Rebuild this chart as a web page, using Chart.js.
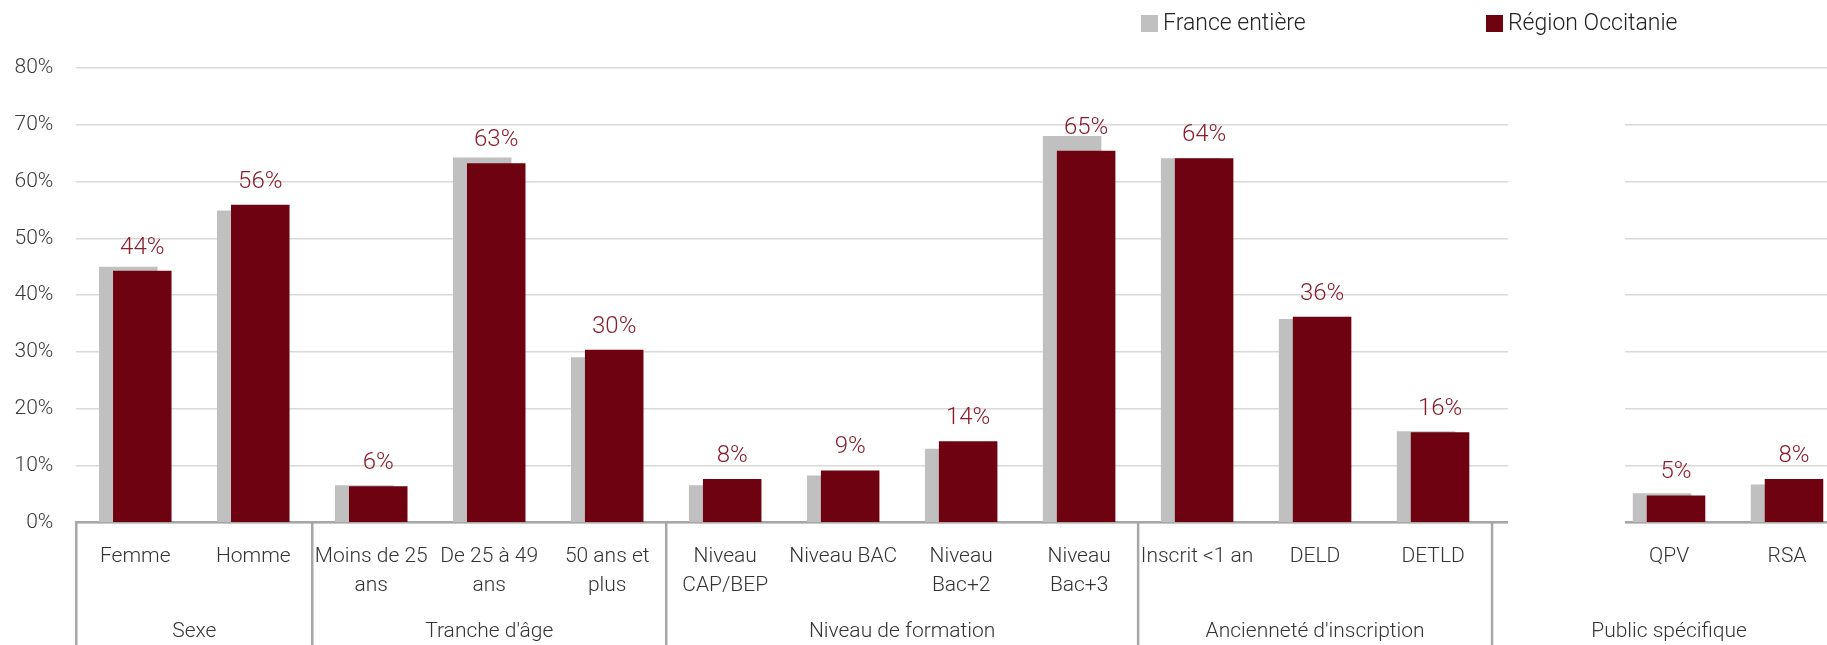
<!DOCTYPE html>
<html lang="fr">
<head>
<meta charset="utf-8">
<title>Profil des demandeurs d'emploi</title>
<script src="https://cdn.jsdelivr.net/npm/chart.js@4.4.1/dist/chart.umd.min.js"></script>
<style>
  html, body { margin: 0; padding: 0; background: #fff; overflow: hidden; }
  body { width: 1827px; height: 645px; position: relative; }
  #wrap { position: absolute; left: 0; top: 0; width: 1846px; height: 645px; }
</style>
</head>
<body>
<div id="wrap"><canvas id="profilChart"></canvas></div>
<script>
const CATEGORIES = [
  "Femme", "Homme",
  ["Moins de 25", "ans"], ["De 25 à 49", "ans"], ["50 ans et", "plus"],
  ["Niveau", "CAP/BEP"], "Niveau BAC", ["Niveau", "Bac+2"], ["Niveau", "Bac+3"],
  "Inscrit <1 an", "DELD", "DETLD",
  "", "QPV", "RSA",
];
const GROUP_NAMES = ["Sexe", "Tranche d'âge", "Niveau de formation", "Ancienneté d'inscription", "Public spécifique"];
const GROUP_SIZES = [2, 3, 4, 3, 3];

const FRANCE = [45.0, 54.9, 6.6, 64.2, 29.1, 6.6, 8.3, 13.0, 68.0, 64.1, 35.8, 16.1, null, 5.2, 6.7];
const OCCITANIE = [44.3, 55.9, 6.4, 63.2, 30.4, 7.7, 9.2, 14.3, 65.4, 64.1, 36.2, 15.9, null, 4.8, 7.7];

const Y_TICKS = [0, 10, 20, 30, 40, 50, 60, 70, 80];

const FONT = "Roboto, 'Noto Sans', sans-serif";
const GRAY = "#c0c0c0";
const WINE = "#6e0210";
const LABEL_RED = "#8a1e2c";
const AXIS_GRAY = "#a9a6a6";

// Occitanie bars must sit on top of the France bars while staying on the right
const barLayering = {
  id: "barLayering",
  beforeDatasetDraw(chart, args) {
    if (args.index === 1) return false;
  },
  afterDatasetDraw(chart, args) {
    if (args.index === 0) chart.getDatasetMeta(1).controller.draw();
  },
};

// blank band between the two blocks of the chart
const blankBand = {
  id: "blankBand",
  beforeDatasetsDraw(chart) {
    const { ctx, scales: { x, y } } = chart;
    const half = (x.getPixelForValue(1) - x.getPixelForValue(0)) / 2;
    const sep = x.getPixelForValue(12) - half;
    ctx.save();
    ctx.fillStyle = "#fff";
    ctx.fillRect(sep + 16, y.getPixelForValue(75), 117, y.bottom - y.getPixelForValue(75) + 4);
    ctx.restore();
  },
};

const valueLabels = {
  id: "valueLabels",
  afterDatasetsDraw(chart) {
    const { ctx } = chart;
    const meta = chart.getDatasetMeta(1);
    ctx.save();
    ctx.font = `300 24px ${FONT}`;
    ctx.fillStyle = LABEL_RED;
    ctx.textAlign = "center";
    ctx.textBaseline = "alphabetic";
    meta.data.forEach((bar, i) => {
      const v = OCCITANIE[i];
      if (v == null) return;
      ctx.fillText(Math.round(v) + "%", bar.x, bar.y - 17);
    });
    ctx.restore();
  },
};

const groupAxis = {
  id: "groupAxis",
  afterDraw(chart) {
    const { ctx, scales: { x } } = chart;
    const half = (x.getPixelForValue(1) - x.getPixelForValue(0)) / 2;
    const top = x.top;
    const bottom = chart.height;
    ctx.save();
    ctx.strokeStyle = AXIS_GRAY;
    ctx.lineWidth = 2.5;
    ctx.font = `300 21px ${FONT}`;
    ctx.fillStyle = "#333";
    ctx.textAlign = "center";
    ctx.textBaseline = "middle";
    let start = 0;
    GROUP_SIZES.forEach((n, g) => {
      const left = x.getPixelForValue(start) - half;
      const right = x.getPixelForValue(start + n - 1) + half;
      ctx.beginPath();
      ctx.moveTo(left, top - 1);
      ctx.lineTo(left, bottom);
      ctx.stroke();
      ctx.fillText(GROUP_NAMES[g], (left + right) / 2, 632);
      start += n;
    });
    ctx.restore();
  },
};

const chartLegend = {
  id: "chartLegend",
  afterDraw(chart) {
    const { ctx } = chart;
    const spots = [1141, 1486];
    ctx.save();
    ctx.font = `300 23px ${FONT}`;
    ctx.textAlign = "left";
    ctx.textBaseline = "middle";
    chart.data.datasets.forEach((ds, i) => {
      ctx.fillStyle = ds.backgroundColor;
      ctx.fillRect(spots[i], 15, 17, 17);
      ctx.fillStyle = "#222";
      ctx.fillText(ds.label, spots[i] + 22, 24);
    });
    ctx.restore();
  },
};

new Chart(document.getElementById("profilChart"), {
  type: "bar",
  data: {
    labels: CATEGORIES,
    datasets: [
      {
        label: "France entière",
        data: FRANCE,
        backgroundColor: GRAY,
        categoryPercentage: 0.2373,
        barPercentage: 4.18,
      },
      {
        label: "Région Occitanie",
        data: OCCITANIE,
        backgroundColor: WINE,
        categoryPercentage: 0.2373,
        barPercentage: 4.18,
      },
    ],
  },
  options: {
    responsive: true,
    maintainAspectRatio: false,
    animation: false,
    layout: { padding: { top: 67.7, left: 0, right: 0, bottom: 0 } },
    plugins: {
      legend: { display: false },
      tooltip: { enabled: false },
    },
    scales: {
      x: {
        offset: true,
        grid: { display: false, drawTicks: false },
        border: { color: AXIS_GRAY, width: 2.5 },
        ticks: {
          color: "#333",
          font: { family: FONT, size: 21, weight: 300, lineHeight: 1.4 },
          padding: 19,
          maxRotation: 0,
          autoSkip: false,
        },
        afterFit(scale) { scale.height = 645 - 522.7; },
      },
      y: {
        min: 0,
        max: 80,
        afterBuildTicks(scale) { scale.ticks = Y_TICKS.map((v) => ({ value: v })); },
        grid: { color: "#d9d9d9", lineWidth: 1.5, drawTicks: false },
        border: { display: false },
        ticks: {
          color: "#3a3a3a",
          font: { family: FONT, size: 21, weight: 300 },
          padding: 23,
          callback: (v) => v + "%",
        },
        afterFit(scale) { scale.width = 76.3; },
      },
    },
  },
  plugins: [barLayering, blankBand, valueLabels, groupAxis, chartLegend],
});
</script>
</body>
</html>
